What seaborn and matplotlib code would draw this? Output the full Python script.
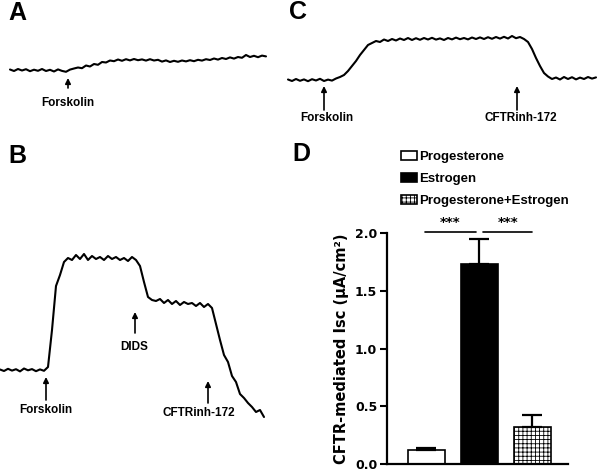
"""
Short-circuit current traces (A-C) and CFTR-mediated Isc bar chart (D).
"""

import numpy as np
import matplotlib
matplotlib.use('Agg')
import matplotlib.pyplot as plt
import matplotlib.patches as mpatches
import seaborn as sns

# ---- data -----------------------------------------------------------------
# Isc traces (arbitrary units, baseline = 0), sampled every 4 s
trace_a = [0.5, -1, 1, -0.5, 0.8, -1.2, 0.3, -0.8, 1, -1, 0.2, -1.5, 0.6, -0.9,
           -1.8, 0.4, 1.5, 2.5, 1.8, 4.5, 3.5, 6, 5.2, 8, 7.5, 9.5, 8.8, 10.5,
           9.2, 10.8, 9.6, 11, 9.8, 10.6, 9.4, 10.8, 9.5, 10.2, 8.4, 9.6, 8, 9.2,
           8.2, 9.5, 8.6, 9.8, 8.8, 10.2, 9.4, 10.8, 10, 11.5, 10.4, 12, 11,
           12.6, 11.4, 13, 12.2, 15, 13, 14.2, 12.8, 14.4, 13.6]
trace_b = [0.5, -1, 1.2, -0.6, 0.8, -1.4, 1.5, -0.3, 0.9, -1.2, 0.6, -0.8, 3,
           40, 84, 95, 108, 112, 110, 115, 111, 116, 110, 114, 111, 113, 110,
           114, 111, 113, 110, 112, 109, 113, 110, 104, 88, 73, 70, 69, 71, 67,
           70, 66, 69, 65, 68, 66, 67, 64, 67, 63, 66, 62, 46, 30, 15, 8, -6,
           -12, -24, -28, -33, -37, -42, -40, -47]
trace_c = [0.5, -1, 1, -0.8, 0.6, -1.2, 0.8, -0.5, 1.2, -1, 0.4, -0.6, 1.5, 3,
           5, 9, 14, 19, 25, 30, 35, 37, 39, 38, 40.5, 39, 41, 39.5, 41.5, 40,
           42, 40, 41.8, 40.2, 42, 40.5, 42.2, 40.4, 41.6, 40, 42, 40.6, 42.4,
           40.8, 42, 40.6, 42.5, 41, 42.6, 41, 42.8, 41.2, 43, 41.4, 43.2, 41.5,
           44, 41.8, 43, 41, 38, 31, 22, 14, 7, 3.5, 1, 2.5, 0.5, 3, 1, 2.8, 0.6,
           2.4, 1, 3, 1.4, 2.6]
sample_step = 4
trace_c_start = 8

# CFTR-mediated Isc (uA/cm2), mean and SEM
groups = ['Progesterone', 'Estrogen', 'Progesterone+Estrogen']
isc_mean = [0.12, 1.73, 0.32]
isc_sem = [0.02, 0.22, 0.10]
sig_pairs = [(0, 1), (1, 2)]
sig_labels = ['***', '***']

W, H = 600, 473
WIDE = ['DejaVu Sans']


def fig_box(x0, y0, w, h):
    """Pixel box (top-left origin) -> figure fraction rect."""
    return [x0 / W, 1 - (y0 + h) / H, w / W, h / H]


def draw_trace(ax, t, y, arrows):
    """Draw one Isc trace with labelled drug-addition arrows."""
    sns.lineplot(x=t, y=y, ax=ax, color='black', linewidth=1.5,
                 estimator=None, sort=False)
    for x, tip, tail, tx, ty, label in arrows:
        ax.annotate('', xy=(x, tip), xytext=(x, tail),
                    arrowprops=dict(arrowstyle='-|>', color='black', lw=1.2,
                                    mutation_scale=8, shrinkA=0, shrinkB=0))
        ax.text(tx, ty, label, ha='center', va='center', fontsize=8.5,
                fontweight='bold')
    ax.set_axis_off()


sns.set_style('white')
plt.rcParams['font.family'] = ['Liberation Sans', 'DejaVu Sans']
plt.rcParams['font.weight'] = 'bold'
plt.rcParams['axes.labelweight'] = 'bold'
plt.rcParams['hatch.linewidth'] = 0.6
for key in ['text.color', 'axes.labelcolor', 'xtick.color', 'ytick.color',
            'axes.edgecolor']:
    plt.rcParams[key] = 'black'

fig = plt.figure(figsize=(W / 100, H / 100), dpi=100)

# ---- panel A ----
ax_a = fig.add_axes(fig_box(0, 0, 280, 140))
t_a = np.arange(len(trace_a)) * sample_step
draw_trace(ax_a, t_a, trace_a, [(58, -8, -18, 58, -33, 'Forskolin')])
ax_a.set_xlim(-10, 270)
ax_a.set_ylim(-70, 70)

# ---- panel B ----
ax_b = fig.add_axes(fig_box(0, 140, 280, 333))
t_b = np.arange(len(trace_b)) * sample_step
draw_trace(ax_b, t_b, trace_b, [(46, -7, -30, 46, -40, 'Forskolin'),
                                (135, 58, 37, 134, 23, 'DIDS'),
                                (208, -11, -33, 199, -43, 'CFTRinh-172')])
ax_b.set_xlim(0, 280)
ax_b.set_ylim(-103, 230)

# ---- panel C ----
ax_c = fig.add_axes(fig_box(280, 0, 320, 140))
t_c = trace_c_start + np.arange(len(trace_c)) * sample_step
draw_trace(ax_c, t_c, trace_c, [(44, -6, -30, 47, -38, 'Forskolin'),
                                (237, -6, -30, 241, -38, 'CFTRinh-172')])
ax_c.set_xlim(0, 320)
ax_c.set_ylim(-60, 80)

# ---- panel D ----
ax_d = fig.add_axes(fig_box(387, 233, 181, 231))
sns.barplot(x=groups, y=isc_mean, hue=groups, order=groups, ax=ax_d,
            palette=['white', 'black', 'white'], width=0.68, legend=False,
            edgecolor='black', linewidth=1.2, errorbar=None)
hatches = ['', '', '++++']
for bar, h in zip(ax_d.patches, hatches):
    bar.set_hatch(h)
    bar.set_edgecolor('black')
ax_d.errorbar(range(len(groups)), isc_mean,
              yerr=[np.zeros(len(groups)), isc_sem], fmt='none',
              ecolor='black', elinewidth=1.6, capsize=7, capthick=1.6)

# significance brackets
for (i, j), lab in zip(sig_pairs, sig_labels):
    lo = i - 0.03 if i == 0 else i + 0.07
    hi = j - 0.07 if i == 0 else j
    ax_d.plot([lo, hi], [2.011, 2.011], color='black', lw=1.2, clip_on=False)
    ax_d.text((lo + hi) / 2, 2.09, lab, ha='center', va='center',
              fontsize=9.5, family=WIDE)

ax_d.set_xlim(-0.745, 2.67)
ax_d.set_ylim(0, 2.0)
ax_d.set_yticks([0, 0.5, 1.0, 1.5, 2.0])
ax_d.set_yticklabels(['0.0', '0.5', '1.0', '1.5', '2.0'], family=WIDE)
ax_d.set_xticks([])
ax_d.set_ylabel('CFTR-mediated Isc (\u03bcA/cm\u00b2)', fontsize=10.5,
                labelpad=4, family=WIDE)
ax_d.tick_params(axis='y', direction='out', length=5, width=1.5,
                 labelsize=9, pad=2, left=True)
sns.despine(ax=ax_d)
for side in ['left', 'bottom']:
    ax_d.spines[side].set_linewidth(1.6)

handles = [mpatches.Patch(facecolor='white', edgecolor='black', lw=1.2),
           mpatches.Patch(facecolor='black', edgecolor='black', lw=1.2),
           mpatches.Patch(facecolor='white', edgecolor='black', lw=1.2,
                          hatch='++++')]
fig.legend(handles, groups, loc='upper left',
           bbox_to_anchor=(401 / W, 1 - 151 / H), frameon=False,
           fontsize=9.5, borderaxespad=0, borderpad=0, labelspacing=0.75,
           handlelength=1.25, handleheight=0.65, handletextpad=0.15)

# panel letters
for x, y, letter in [(17, 13, 'A'), (17, 156, 'B'), (298, 12, 'C'),
                     (301, 154, 'D')]:
    fig.text(x / W, 1 - y / H, letter, ha='center', va='center',
             fontsize=18, fontweight='bold')

fig.savefig('out.png', dpi=100)
plt.close(fig)
